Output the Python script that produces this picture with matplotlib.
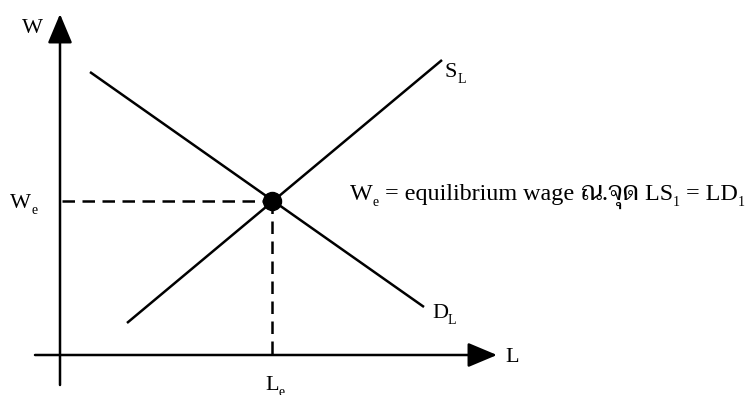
import matplotlib
matplotlib.use("Agg")
import matplotlib.pyplot as plt

# ---- data (economic units: origin at the axes crossing) ----
supply_L = [67, 382]
supply_W = [32, 295]
demand_L = [30, 364]
demand_W = [283, 48]
eq_L = 212
eq_W = 154
y_axis_range = [-30, 341]
x_axis_range = [-25, 437]

FAM = ['Liberation Serif', 'Taviraj', 'Trirong', 'Noto Serif Thai', 'Noto Sans Thai', 'Loma']
FS = 16
SUB = 10
SUBDY = -4

fig = plt.figure(figsize=(7.49, 3.95), dpi=100)
ax = fig.add_axes([0, 0, 1, 1])
ax.set_xlim(-60, 689)
ax.set_ylim(-40, 355)
ax.axis('off')

lw = 1.8
# axes with arrows
for xy, xytext in [((0, y_axis_range[1]), (0, y_axis_range[0])),
                   ((x_axis_range[1], 0), (x_axis_range[0], 0))]:
    ax.annotate('', xy=xy, xytext=xytext,
                arrowprops=dict(arrowstyle='-|>,head_length=1.0,head_width=0.42', lw=lw,
                                color='black', shrinkA=0, shrinkB=0, mutation_scale=18))

# supply and demand
ax.plot(supply_L, supply_W, color='black', lw=lw, solid_capstyle='butt')
ax.plot(demand_L, demand_W, color='black', lw=lw, solid_capstyle='butt')

# dashed guides
ax.plot([2, eq_L], [eq_W, eq_W], color='black', lw=lw, ls=(0, (5, 3)))
ax.plot([eq_L, eq_L], [eq_W, 0], color='black', lw=lw, ls=(0, (5, 3)))

# equilibrium point
ax.plot([eq_L], [eq_W], 'o', color='black', markersize=13, zorder=5)


def rich(x, y, pieces):
    s, fs, dy = pieces[0]
    prev = ax.text(x, y, s, fontsize=fs, family=FAM, va='baseline', ha='left')
    for s, fs, dy in pieces[1:]:
        prev = ax.annotate(s, xy=(1, y), xycoords=(prev, 'data'), xytext=(0, dy),
                           textcoords='offset points', fontsize=fs, family=FAM,
                           va='baseline', ha='left')


rich(-38, 322, [('W', FS, 0)])
rich(-50, 147, [('W', FS, 0), ('e', SUB, SUBDY)])
rich(385, 278, [('S', FS, 0), ('L', SUB, SUBDY)])
rich(372, 37, [('D', FS, 0), ('L', SUB, SUBDY)])
rich(445, -7, [('L', FS, 0)])
rich(205, -35, [('L', FS, 0), ('e', SUB, SUBDY)])
FS2 = 17.4
rich(290, 155, [('W', FS2, 0), ('e', SUB, SUBDY), (' = equilibrium wage ', FS2, 0),
                ('ณ.จุด', FS2 + 1, 0), (' LS', FS2, 0),
                ('1', SUB, SUBDY), (' = LD', FS2, 0), ('1', SUB, SUBDY)])

fig.savefig('out.png', dpi=100)
